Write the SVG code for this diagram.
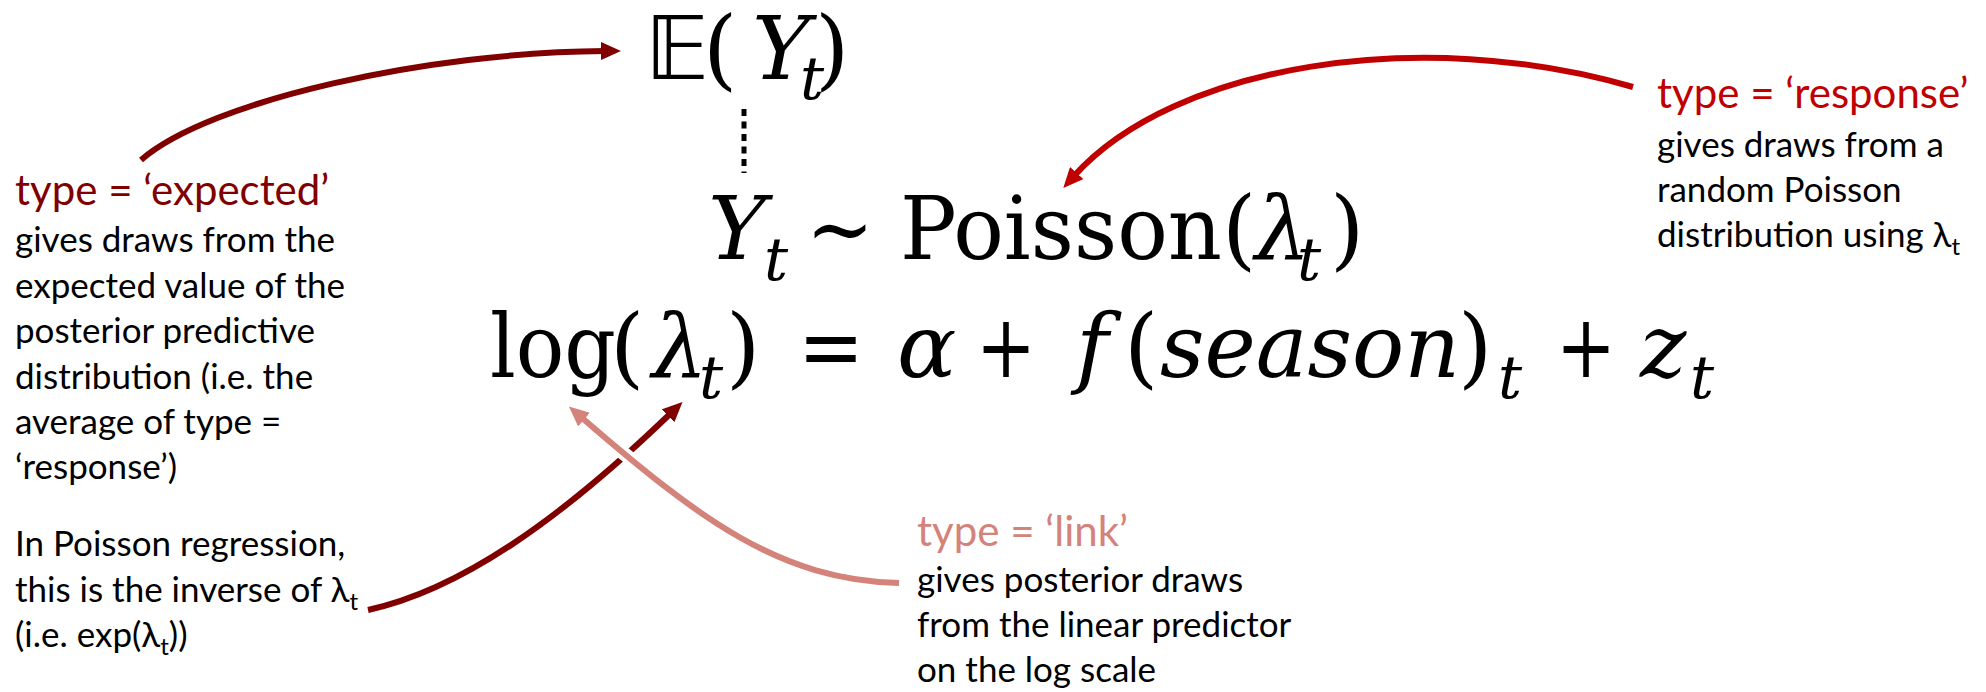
<svg xmlns="http://www.w3.org/2000/svg" width="1986" height="692" viewBox="0 0 1986 692">
<style>
.tx{font-family:Lato,"Liberation Sans",sans-serif;font-size:35px;fill:#000}
.tt{font-size:42px}
.sb{font-size:24px}
.m{font-family:"DejaVu Serif","Liberation Serif",serif;font-size:88px;fill:#000}
.i{font-style:italic}
.ms{font-family:"DejaVu Serif","Liberation Serif",serif;font-size:60px;font-style:italic;fill:#000}
.ds{font-family:"DejaVu Sans","DejaVu Serif","Noto Sans",sans-serif;font-size:88px;fill:#000}
.c-exp{fill:#800000}
.c-resp{fill:#C00000}
.c-link{fill:#D4837A}
.ln{fill:none;stroke-width:6}
</style>
<defs>
<marker id="ah-exp" viewBox="0 0 20 18" refX="4" refY="9" markerWidth="20" markerHeight="18" markerUnits="userSpaceOnUse" orient="auto"><path d="M0,0 L20,9 L0,18 z" fill="#800000"/></marker>
<marker id="ah-resp" viewBox="0 0 20 18" refX="4" refY="9" markerWidth="20" markerHeight="18" markerUnits="userSpaceOnUse" orient="auto"><path d="M0,0 L20,9 L0,18 z" fill="#C00000"/></marker>
<marker id="ah-link" viewBox="0 0 20 18" refX="4" refY="9" markerWidth="20" markerHeight="18" markerUnits="userSpaceOnUse" orient="auto"><path d="M0,0 L20,9 L0,18 z" fill="#D4837A"/></marker>
</defs>

<g id="expectation">
<text class="ds" x="645" y="79">𝔼</text>
<text class="m" x="703" y="79">(</text>
<text class="m i" x="752" y="79">Y</text>
<text class="ms" x="800" y="99">t</text>
<text class="m" x="815" y="79">)</text>
</g>

<g id="poisson">
<text class="m i" x="708" y="259">Y</text>
<text class="ms" x="764" y="280">t</text>
<text class="m" x="806" y="259" textLength="68" lengthAdjust="spacingAndGlyphs">~</text>
<text class="m" x="900" y="259" textLength="322" lengthAdjust="spacingAndGlyphs">Poisson</text>
<text class="m" x="1222" y="259">(</text>
<text class="m i" x="1255" y="259">λ</text>
<text class="ms" x="1297" y="280">t</text>
<text class="m" x="1330" y="259">)</text>
</g>

<g id="log-link">
<text class="m" x="490" y="377" textLength="126" lengthAdjust="spacingAndGlyphs">log</text>
<text class="m" x="610" y="377">(</text>
<text class="m i" x="652" y="377">λ</text>
<text class="ms" x="699" y="398">t</text>
<text class="m" x="726" y="377">)</text>
<text class="m" x="798" y="377" textLength="66" lengthAdjust="spacingAndGlyphs">=</text>
<text class="m i" x="897" y="377">α</text>
<text class="m" x="976" y="377" textLength="60" lengthAdjust="spacingAndGlyphs">+</text>
<text class="m i" x="1076" y="377">f</text>
<text class="m" x="1124" y="377">(</text>
<text class="m i" x="1160" y="377" textLength="300" lengthAdjust="spacingAndGlyphs">season</text>
<text class="m" x="1458" y="377">)</text>
<text class="ms" x="1498" y="398">t</text>
<text class="m" x="1556" y="377" textLength="60" lengthAdjust="spacingAndGlyphs">+</text>
<text class="m i" x="1640" y="377">z</text>
<text class="ms" x="1690" y="398">t</text>
</g>

<g id="label-expected">
<text class="tx tt c-exp" x="15" y="205">type = ‘expected’</text>
<text class="tx" x="15" y="252">gives draws from the</text>
<text class="tx" x="15" y="298">expected value of the</text>
<text class="tx" x="15" y="343">posterior predictive</text>
<text class="tx" x="15" y="389">distribution (i.e. the</text>
<text class="tx" x="15" y="434">average of type =</text>
<text class="tx" x="15" y="479">‘response’)</text>
</g>

<g id="note-inverse">
<text class="tx" x="15" y="556">In Poisson regression,</text>
<text class="tx" x="15" y="602">this is the inverse of λ<tspan class="sb" dy="8">t</tspan></text>
<text class="tx" x="15" y="647">(i.e. exp(λ<tspan class="sb" dy="8">t</tspan><tspan dy="-8">))</tspan></text>
</g>

<g id="label-response">
<text class="tx tt c-resp" x="1657" y="108">type = ‘response’</text>
<text class="tx" x="1657" y="157">gives draws from a</text>
<text class="tx" x="1657" y="202">random Poisson</text>
<text class="tx" x="1657" y="247">distribution using λ<tspan class="sb" dy="8">t</tspan></text>
</g>

<g id="label-link">
<text class="tx tt c-link" x="917" y="546">type = ‘link’</text>
<text class="tx" x="917" y="592">gives posterior draws</text>
<text class="tx" x="917" y="637">from the linear predictor</text>
<text class="tx" x="917" y="682">on the log scale</text>
</g>

<g id="connectors">
<line x1="744" y1="109" x2="744" y2="173" stroke="#000" stroke-width="5" stroke-dasharray="7 5.5"/>
<path class="ln" stroke="#800000" d="M141,160 C210,100 430,52 605,51" marker-end="url(#ah-exp)"/>
<path class="ln" stroke="#C00000" d="M1633,87 C1420,25 1174,65 1074,176" marker-end="url(#ah-resp)"/>
<path class="ln" stroke="#800000" d="M368,610 C460,590 560,520 671,413" marker-end="url(#ah-exp)"/>
<path fill="none" stroke="#fff" stroke-width="14" d="M899,583 C780,580 700,520 581,417"/>
<path class="ln" stroke="#D4837A" d="M899,583 C780,580 700,520 581,417" marker-end="url(#ah-link)"/>
</g>
</svg>
